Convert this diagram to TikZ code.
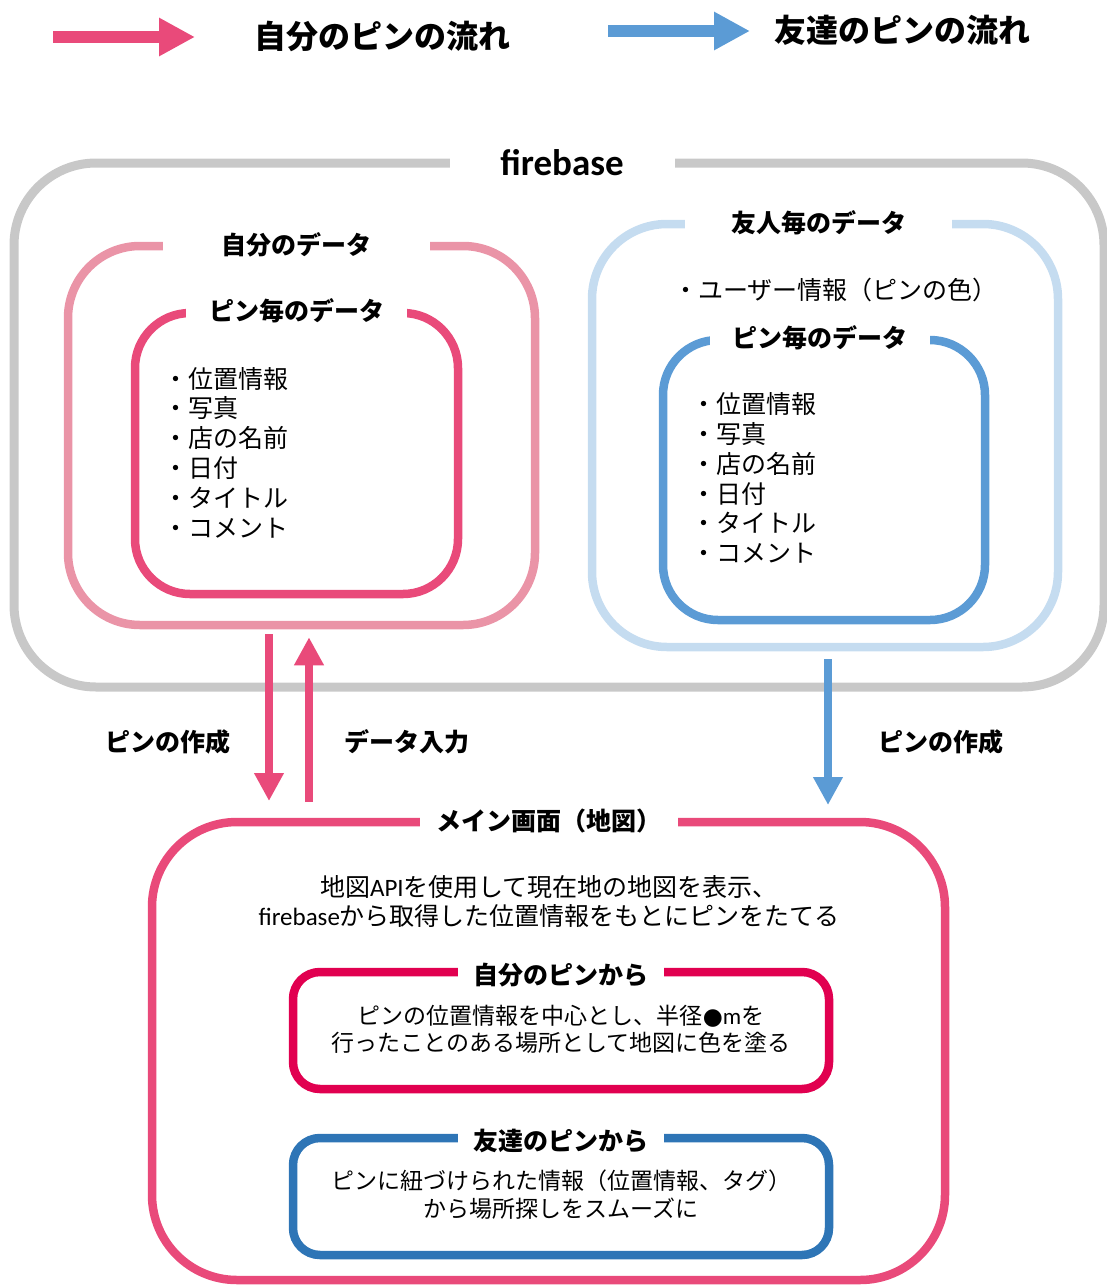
\documentclass[tikz,border=0pt]{standalone}
\usepackage{fontspec}
\setmainfont{Noto Sans CJK JP}
\newfontfamily\latfont{Carlito}
\usetikzlibrary{arrows.meta}
\definecolor{fbgray}{RGB}{200,200,200}
\definecolor{lpink}{RGB}{234,148,167}
\definecolor{mpink}{RGB}{233,74,122}
\definecolor{crimson}{RGB}{225,0,80}
\definecolor{lblue}{RGB}{197,220,240}
\definecolor{mblue}{RGB}{91,155,213}
\definecolor{dblue}{RGB}{46,117,182}
\begin{document}
\begin{tikzpicture}[x=1pt,y=-1pt,
  box/.style={draw=#1, inner sep=0pt, line width=8.5pt},
  title/.style={fill=white, inner sep=0pt, minimum height=16pt, font=\bfseries\fontsize{25}{28}\selectfont},
  items/.style={anchor=west, align=left, inner sep=0pt, font=\fontsize{25}{29.8}\selectfont},
  body/.style={align=center, inner sep=0pt, font=\fontsize{23}{27.5}\selectfont},
  flow/.style={line width=8.5pt, -{Triangle[length=28pt,width=28pt]}},
  legend/.style={line width=12pt, -{Triangle[length=36pt,width=36pt]}},
  lbl/.style={font=\bfseries\fontsize{25}{28}\selectfont, inner sep=0pt}
]
\useasboundingbox (0,0) rectangle (1107,1286);

% legend
\coordinate (lpA) at (53,37);
\coordinate (lpB) at (195,37);
\draw[legend, mpink] (lpA) -- (lpB);
\node[font=\bfseries\fontsize{32}{36}\selectfont, anchor=west, inner sep=0pt] (lpT) at (254,36) {自分のピンの流れ};
\coordinate (lbA) at (608,31);
\coordinate (lbB) at (750,31);
\draw[legend, mblue] (lbA) -- (lbB);
\node[font=\bfseries\fontsize{32}{36}\selectfont, anchor=west, inner sep=0pt] (lbT) at (774,30) {友達のピンの流れ};

% firebase
\node[box=fbgray, line width=9pt, rounded corners=82pt, minimum width=1090pt, minimum height=524pt] (fb) at (559,425) {};
\node[title, minimum width=225pt, font=\latfont\bfseries\fontsize{37}{40}\selectfont] (fbT) at (562,163) {firebase};

% my data
\node[box=lpink, rounded corners=72pt, minimum width=467pt, minimum height=379pt] (mine) at (301.5,435.5) {};
\node[title, minimum width=267pt] (mineT) at (296.5,245) {自分のデータ};
\node[box=mpink, rounded corners=55pt, minimum width=323pt, minimum height=281pt] (minePin) at (296.5,453.5) {};
\node[title, minimum width=221pt] (minePinT) at (296.5,311) {ピン毎のデータ};
\node[items] (mineList) at (163,452.5) {・位置情報\\・写真\\・店の名前\\・日付\\・タイトル\\・コメント};

% friends data
\node[box=lblue, rounded corners=75pt, minimum width=466pt, minimum height=423pt] (fr) at (825,435.5) {};
\node[title, minimum width=267pt] (frT) at (818.5,223) {友人毎のデータ};
\node[anchor=west, inner sep=0pt, font=\fontsize{25}{28}\selectfont] (frUser) at (673,290) {・ユーザー情報（ピンの色）};
\node[box=mblue, rounded corners=55pt, minimum width=322pt, minimum height=280pt] (frPin) at (824,480) {};
\node[title, minimum width=220pt] (frPinT) at (820,338) {ピン毎のデータ};
\node[items] (frList) at (691,478) {・位置情報\\・写真\\・店の名前\\・日付\\・タイトル\\・コメント};

% main screen
\node[box=mpink, rounded corners=85pt, minimum width=793pt, minimum height=458pt] (main) at (548.5,1051) {};
\node[title, minimum width=258pt] (mainT) at (549,821) {メイン画面（地図）};
\node[body, font=\fontsize{25}{29}\selectfont] (mainText) at (549,901.5) {地図{\latfont API}を使用して現在地の地図を表示、\\{\latfont firebase}から取得した位置情報をもとにピンをたてる};

\node[box=crimson, rounded corners=27pt, minimum width=536pt, minimum height=117pt] (own) at (561,1030.5) {};
\node[title, minimum width=206pt] (ownT) at (561,975) {自分のピンから};
\node[body] (ownText) at (561,1029.5) {ピンの位置情報を中心とし、半径{\fontspec{DejaVu Sans}●}{\latfont m}を\\行ったことのある場所として地図に色を塗る};

\node[box=dblue, rounded corners=27pt, minimum width=536pt, minimum height=117pt] (frd) at (561,1196.5) {};
\node[title, minimum width=206pt] (frdT) at (561,1141) {友達のピンから};
\node[body] (frdText) at (561,1194.5) {ピンに紐づけられた情報（位置情報、タグ）\\から場所探しをスムーズに};

% connectors
\coordinate (a1s) at (mine.south -| 269,0);
\coordinate (a1e) at (269,801);
\draw[flow, mpink] ([yshift=-5pt]a1s) -- (a1e);
\coordinate (a2s) at (309,802);
\coordinate (a2e) at (mine.south -| 309,0);
\draw[flow, mpink] (a2s) -- ([yshift=-8pt]a2e);
\coordinate (a3s) at (fr.south -| 828,0);
\coordinate (a3e) at (828,805);
\draw[flow, mblue] ([yshift=-8pt]a3s) -- (a3e);

\node[lbl] (l1) at (168,742) {ピンの作成};
\node[lbl] (l2) at (407,742) {データ入力};
\node[lbl] (l3) at (941,742) {ピンの作成};
\end{tikzpicture}
\end{document}
